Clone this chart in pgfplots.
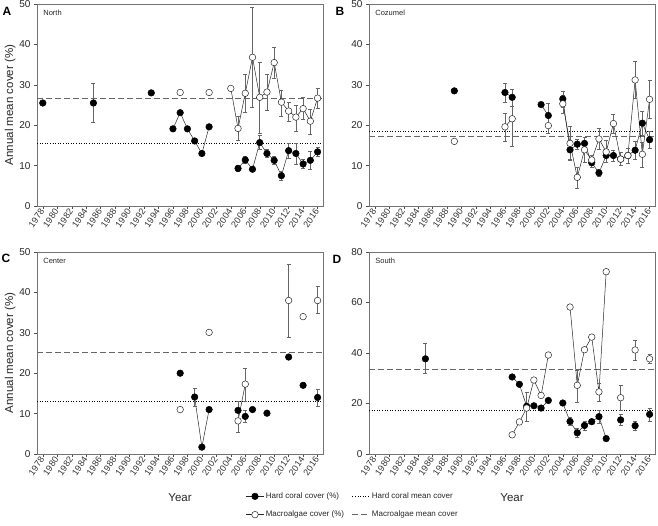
\documentclass[border=0pt]{standalone}
\usepackage{pgfplots}
\usepackage{pgfplotstable}
\usepackage{fontspec}
\setmainfont{Liberation Sans}
\pgfplotsset{compat=1.18}

\pgfplotstableread{
x y ep em
1978 25.5 0 0
1979 nan 0 0
1985 25.5 4.8 4.8
1986 nan 0 0
1993 28.0 0 0
1994 nan 0 0
1996 19.1 0 0
1997 23.1 0 0
1998 19.1 0 0
1999 16.1 0 0
2000 13.0 0 0
2001 19.6 0 0
2002 nan 0 0
2005 9.3 0.7 0.7
2006 11.4 0.8 0.8
2007 9.1 0.6 0.6
2008 15.7 1.7 1.7
2009 13.0 1.0 1.0
2010 11.3 1.0 1.0
2011 7.5 1.2 1.2
2012 13.7 1.8 1.8
2013 13.0 2.6 2.6
2014 10.4 1.1 1.1
2015 11.3 2.2 2.2
2016 13.4 1.1 1.1
}\Ahc
\pgfplotstableread{
x y ep em
1997 28.1 0 0
1998 nan 0 0
2001 28.1 0 0
2002 nan 0 0
2004 29.1 0 0
2005 19.2 3.0 3.0
2006 27.9 4.7 4.8
2007 36.8 12.4 12.4
2008 26.9 8.7 8.8
2009 28.2 4.5 4.6
2010 35.5 3.8 3.9
2011 25.7 3.0 3.4
2012 23.5 2.1 2.6
2013 22.0 3.0 3.4
2014 24.1 2.8 2.6
2015 21.0 3.0 3.2
2016 26.7 2.4 2.5
}\Ama
\pgfplotstableread{
x y ep em
1989 28.5 0 0
1990 nan 0 0
1996 28.1 2.3 2.4
1997 26.9 2.1 2.3
1998 nan 0 0
2001 25.1 0 0
2002 22.4 3.0 2.5
2003 nan 0 0
2004 26.5 2.0 2.0
2005 13.9 2.3 2.5
2006 15.3 1.2 1.2
2007 15.5 1.5 1.4
2008 10.7 1.3 1.2
2009 8.2 0.9 0.9
2010 12.5 1.5 1.6
2011 12.5 1.4 1.4
2012 11.6 0 0
2013 12.5 0 0
2014 13.8 2.2 2.3
2015 20.5 3.0 3.0
2016 16.4 2.0 2.2
}\Bhc
\pgfplotstableread{
x y ep em
1989 16.0 0 0
1990 nan 0 0
1996 19.6 3.3 3.5
1997 21.6 7.4 6.7
1998 nan 0 0
2002 19.9 2.0 2.0
2003 nan 0 0
2004 25.3 2.0 2.3
2005 15.5 4.2 4.0
2006 7.1 2.5 2.6
2007 13.9 3.0 3.2
2008 11.4 1.2 1.2
2009 16.6 2.6 2.6
2010 13.4 2.8 2.6
2011 20.4 2.3 2.3
2012 11.6 1.6 1.6
2013 12.5 1.9 1.9
2014 31.2 4.6 4.5
2015 12.8 3.0 3.2
2016 26.4 4.6 4.7
}\Bma
\pgfplotstableread{
x y ep em
1997 20.0 0 0
1998 nan 0 0
1999 14.1 2.2 2.2
2000 1.7 0 0
2001 11.0 0 0
2002 nan 0 0
2005 10.8 0 0
2006 nan 0 0
2006 9.3 1.5 1.5
2007 nan 0 0
2007 11.0 0 0
2008 nan 0 0
2009 10.1 0 0
2010 nan 0 0
2012 24.0 0 0
2013 nan 0 0
2014 17.0 0 0
2015 nan 0 0
2016 14.0 2.0 2.2
}\Chc
\pgfplotstableread{
x y ep em
1997 11.0 0 0
1998 nan 0 0
2001 30.1 0 0
2002 nan 0 0
2005 8.2 4.8 2.9
2006 17.3 3.9 4.3
2007 nan 0 0
2012 38.0 8.9 9.0
2013 nan 0 0
2014 34.0 0 0
2015 nan 0 0
2016 38.0 3.6 3.2
}\Cma
\pgfplotstableread{
x y ep em
1985 37.7 6.0 5.9
1986 nan 0 0
1997 30.5 0 0
1998 27.6 0 0
1999 18.9 0 0
2000 19.1 0 0
2001 18.2 0 0
2002 21.2 0 0
2003 nan 0 0
2004 20.2 0 0
2005 12.9 1.5 1.5
2006 8.4 1.6 1.8
2007 11.3 1.8 1.8
2008 12.8 0 0
2009 14.8 2.4 2.6
2010 6.1 0 0
2011 nan 0 0
2012 13.5 2.3 2.0
2013 nan 0 0
2014 11.2 1.8 1.7
2015 nan 0 0
2016 15.7 2.4 2.7
}\Dhc
\pgfplotstableread{
x y ep em
1997 7.6 0 0
1998 12.7 0 0
1999 18.2 6.2 5.3
2000 29.3 0 0
2001 23.2 0 0
2002 39.2 0 0
2003 nan 0 0
2005 58.2 0 0
2006 27.2 6.0 6.8
2007 41.3 0 0
2008 46.3 0 0
2009 24.6 3.4 3.6
2010 72.2 0 0
2011 nan 0 0
2012 22.3 5.0 5.1
2013 nan 0 0
2014 41.2 4.0 4.2
2015 nan 0 0
2016 37.7 1.8 1.9
}\Dma

\pgfplotsset{
 panel/.style={
  width=286pt, height=202pt, scale only axis,
  xmin=1977.2, xmax=2016.75, ymin=0,
  xtick={1978,1980,...,2016},
  /pgf/number format/assume math mode=true,
  /pgf/number format/1000 sep={},
  xticklabel style={rotate=55, anchor=east, font=\fontsize{9}{9}\selectfont, text=black!80, inner sep=1pt},
  yticklabel style={font=\fontsize{10}{11}\selectfont, text=black!85},
  tick align=outside, tick pos=left, major tick length=3pt,
  every tick/.style={black!70},
  axis line style={black!55},
  unbounded coords=jump,
  label style={font=\fontsize{11.5}{12}\selectfont, text=black!85},
 },
 hc/.style={black!85, line width=0.5pt, mark=*, mark size=3.3pt,
   mark options={solid, fill=black, draw=black},
   error bars/.cd, y dir=both, y explicit,
   error bar style={black!60, line width=0.6pt},
   error mark options={rotate=90, black!60, mark size=2pt, line width=0.6pt},
   /pgfplots/.cd},
 ma/.style={black!85, line width=0.5pt, mark=*, mark size=3.3pt,
   mark options={solid, fill=white, draw=black!85},
   error bars/.cd, y dir=both, y explicit,
   error bar style={black!60, line width=0.6pt},
   error mark options={rotate=90, black!60, mark size=2pt, line width=0.6pt},
   /pgfplots/.cd},
 hcmean/.style={black, line width=0.6pt, dotted},
 mamean/.style={black!60, line width=0.8pt, dash pattern=on 6pt off 3pt},
}

\begin{document}
\begin{tikzpicture}[x=1pt,y=1pt]
\path[use as bounding box] (0,0) rectangle (658,525);

% A
\begin{axis}[panel, at={(37pt,319pt)}, anchor=south west, ymax=50, ytick={0,10,...,50},
  ylabel={Annual mean cover (\%)}, ylabel style={yshift=-3pt}]
\addplot[mamean] coordinates {(1977.2,26.7) (2016.75,26.7)};
\addplot[hcmean] coordinates {(1977.2,15.6) (2016.75,15.6)};
\addplot[hc] table[x=x, y=y, y error plus=ep, y error minus=em] {\Ahc};
\addplot[ma] table[x=x, y=y, y error plus=ep, y error minus=em] {\Ama};
\node[anchor=west, font=\fontsize{7.5}{8}\selectfont, text=black!85] at (rel axis cs:0.01,0.955) {North};
\end{axis}

% B
\begin{axis}[panel, at={(369pt,319pt)}, anchor=south west, ymax=50, ytick={0,10,...,50}]
\addplot[mamean] coordinates {(1977.2,17.3) (2016.75,17.3)};
\addplot[hcmean] coordinates {(1977.2,18.5) (2016.75,18.5)};
\addplot[hc] table[x=x, y=y, y error plus=ep, y error minus=em] {\Bhc};
\addplot[ma] table[x=x, y=y, y error plus=ep, y error minus=em] {\Bma};
\node[anchor=west, font=\fontsize{7.5}{8}\selectfont, text=black!85] at (rel axis cs:0.01,0.955) {Cozumel};
\end{axis}

% C
\begin{axis}[panel, at={(37pt,71pt)}, anchor=south west, ymax=50, ytick={0,10,...,50},
  ylabel={Annual mean cover (\%)}, ylabel style={yshift=-3pt}, xlabel={Year}, xlabel style={yshift=-12pt}]
\addplot[mamean] coordinates {(1977.2,25.2) (2016.75,25.2)};
\addplot[hcmean] coordinates {(1977.2,13.0) (2016.75,13.0)};
\addplot[hc] table[x=x, y=y, y error plus=ep, y error minus=em] {\Chc};
\addplot[ma] table[x=x, y=y, y error plus=ep, y error minus=em] {\Cma};
\node[anchor=west, font=\fontsize{7.5}{8}\selectfont, text=black!85] at (rel axis cs:0.01,0.955) {Center};
\end{axis}

% D
\begin{axis}[panel, at={(369pt,71pt)}, anchor=south west, ymax=80, ytick={0,20,...,80},
  xlabel={Year}, xlabel style={yshift=-12pt},
  legend columns=2,
  legend style={draw=none, fill=none, at={(-0.056,-0.255)}, anchor=center,
    font=\fontsize{8}{9}\selectfont, text=black!85, row sep=7pt,
    /tikz/every even column/.append style={column sep=6pt}},
  legend cell align=left]
\addplot[forget plot, mamean] coordinates {(1977.2,33.4) (2016.75,33.4)};
\addplot[forget plot, hcmean] coordinates {(1977.2,17.5) (2016.75,17.5)};
\addplot[forget plot, hc] table[x=x, y=y, y error plus=ep, y error minus=em] {\Dhc};
\addplot[forget plot, ma] table[x=x, y=y, y error plus=ep, y error minus=em] {\Dma};
\addlegendimage{black!85, line width=0.5pt, mark=*, mark size=3.3pt, mark options={fill=black, draw=black}}
\addlegendentry{Hard coral cover (\%)}
\addlegendimage{hcmean}
\addlegendentry{Hard coral mean cover}
\addlegendimage{black!85, line width=0.5pt, mark=*, mark size=3.3pt, mark options={fill=white, draw=black!85}}
\addlegendentry{Macroalgae cover (\%)}
\addlegendimage{mamean}
\addlegendentry{Macroalgae mean cover}
\node[anchor=west, font=\fontsize{7.5}{8}\selectfont, text=black!85] at (rel axis cs:0.01,0.955) {South};
\end{axis}

\node[font=\bfseries\fontsize{12}{12}\selectfont] at (7,514) {A};
\node[font=\bfseries\fontsize{12}{12}\selectfont] at (340,514) {B};
\node[font=\bfseries\fontsize{12}{12}\selectfont] at (6,267) {C};
\node[font=\bfseries\fontsize{12}{12}\selectfont] at (337,266) {D};
\end{tikzpicture}
\end{document}
